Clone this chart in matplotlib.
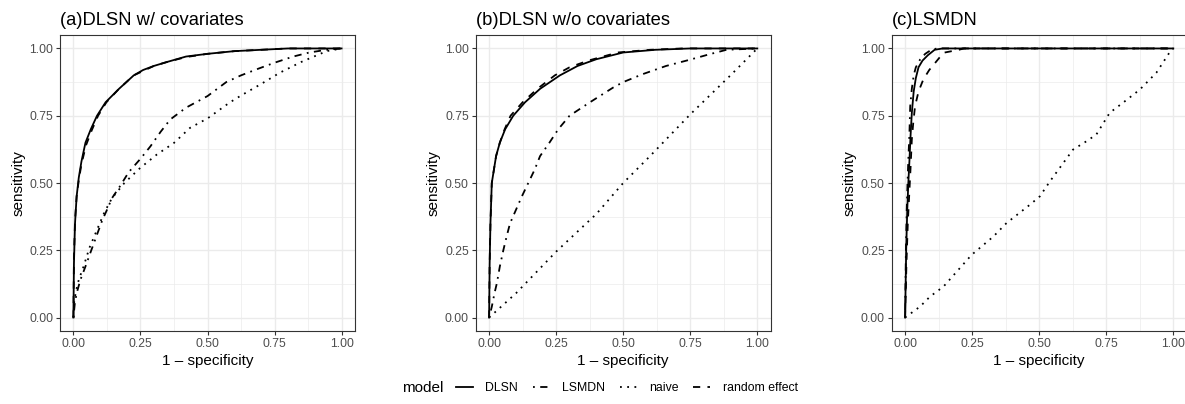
import matplotlib
matplotlib.use("Agg")
import matplotlib.pyplot as plt
from matplotlib.lines import Line2D
from matplotlib.ticker import MultipleLocator

plt.rcParams["font.family"] = ["Liberation Sans", "DejaVu Sans"]

# ---- data (x = 1 - specificity, y = sensitivity) ----
panel_titles = ["(a)DLSN w/ covariates", "(b)DLSN w/o covariates", "(c)LSMDN"]
models = ["DLSN", "LSMDN", "naive", "random effect"]

# panel (a)
a_dlsn_x = [0, 0.002, 0.006, 0.012, 0.02, 0.03, 0.045, 0.065, 0.088, 0.12, 0.17, 0.225, 0.26, 0.30, 0.35, 0.42, 0.50, 0.60, 0.70, 0.80, 1.0]
a_dlsn_y = [0, 0.2, 0.35, 0.45, 0.52, 0.58, 0.65, 0.70, 0.75, 0.80, 0.85, 0.90, 0.92, 0.935, 0.95, 0.97, 0.98, 0.99, 0.995, 1.0, 1.0]
a_lsmdn_x = [0, 0.005, 0.012, 0.026, 0.045, 0.063, 0.085, 0.107, 0.125, 0.144, 0.175, 0.206, 0.25, 0.287, 0.325, 0.361, 0.42, 0.5, 0.57, 0.625, 0.69, 0.75, 0.82, 0.88, 0.95, 1]
a_lsmdn_y = [0, 0.05, 0.09, 0.14, 0.19, 0.24, 0.30, 0.36, 0.40, 0.444, 0.49, 0.54, 0.59, 0.636, 0.69, 0.736, 0.78, 0.823, 0.875, 0.90, 0.925, 0.947, 0.97, 0.985, 0.996, 1]
a_naive_x = [0, 0.003, 0.01, 0.02, 0.038, 0.06, 0.088, 0.115, 0.144, 0.19, 0.249, 0.31, 0.375, 0.435, 0.5, 0.584, 0.625, 0.7, 0.77, 0.85, 0.944, 1]
a_naive_y = [0, 0.06, 0.1, 0.14, 0.19, 0.26, 0.326, 0.39, 0.444, 0.5, 0.556, 0.605, 0.649, 0.705, 0.74, 0.80, 0.825, 0.868, 0.91, 0.95, 0.99, 1]
a_re_x = [0, 0.002, 0.006, 0.012, 0.02, 0.03, 0.047, 0.068, 0.092, 0.123, 0.17, 0.225, 0.30, 0.35, 0.42, 0.5, 0.6, 0.7, 0.8, 1]
a_re_y = [0, 0.22, 0.36, 0.45, 0.51, 0.57, 0.64, 0.695, 0.75, 0.80, 0.85, 0.90, 0.935, 0.95, 0.968, 0.98, 0.99, 0.995, 1, 1]

# panel (b)
b_dlsn_x = [0, 0.002, 0.005, 0.01, 0.018, 0.026, 0.04, 0.06, 0.09, 0.134, 0.19, 0.264, 0.33, 0.40, 0.5, 0.62, 0.75, 1]
b_dlsn_y = [0, 0.2, 0.35, 0.5, 0.55, 0.6, 0.65, 0.70, 0.75, 0.80, 0.85, 0.90, 0.935, 0.96, 0.985, 0.995, 1, 1]
b_lsmdn_x = [0, 0.01, 0.02, 0.029, 0.04, 0.053, 0.065, 0.078, 0.1, 0.122, 0.146, 0.17, 0.19, 0.225, 0.258, 0.30, 0.376, 0.463, 0.5, 0.574, 0.66, 0.748, 0.82, 0.885, 1]
b_lsmdn_y = [0, 0.04, 0.09, 0.128, 0.19, 0.25, 0.30, 0.35, 0.40, 0.45, 0.5, 0.55, 0.6, 0.65, 0.7, 0.75, 0.8, 0.855, 0.875, 0.905, 0.935, 0.958, 0.978, 0.995, 1]
b_naive_x = [0, 0.1, 0.25, 0.4, 0.5, 0.6, 0.75, 0.9, 1]
b_naive_y = [0, 0.09, 0.245, 0.385, 0.5, 0.6, 0.755, 0.9, 1]
b_re_x = [0, 0.002, 0.005, 0.01, 0.018, 0.026, 0.04, 0.058, 0.08, 0.125, 0.18, 0.245, 0.30, 0.37, 0.48, 0.6, 0.72, 1]
b_re_y = [0, 0.2, 0.35, 0.5, 0.55, 0.6, 0.65, 0.70, 0.75, 0.80, 0.85, 0.90, 0.93, 0.955, 0.985, 0.995, 1, 1]

# panel (c)
c_dlsn_x = [0, 0.004, 0.008, 0.012, 0.016, 0.02, 0.025, 0.032, 0.04, 0.05, 0.065, 0.085, 0.11, 0.14, 1]
c_dlsn_y = [0, 0.25, 0.4, 0.5, 0.58, 0.67, 0.76, 0.84, 0.89, 0.93, 0.955, 0.975, 0.995, 1, 1]
c_lsmdn_x = [0, 0.003, 0.006, 0.009, 0.012, 0.016, 0.019, 0.025, 0.032, 0.04, 0.056, 0.075, 0.099, 0.12, 1]
c_lsmdn_y = [0, 0.25, 0.4, 0.5, 0.587, 0.68, 0.785, 0.85, 0.9, 0.93, 0.959, 0.98, 0.996, 1, 1]
c_naive_x = [0, 0.056, 0.093, 0.143, 0.248, 0.329, 0.378, 0.465, 0.502, 0.54, 0.626, 0.676, 0.713, 0.763, 0.812, 0.875, 0.937, 0.993, 1]
c_naive_y = [0, 0.041, 0.078, 0.115, 0.233, 0.301, 0.351, 0.419, 0.45, 0.506, 0.624, 0.655, 0.68, 0.761, 0.798, 0.847, 0.91, 0.996, 1]
c_re_x = [0, 0.005, 0.01, 0.015, 0.02, 0.025, 0.03, 0.037, 0.05, 0.068, 0.09, 0.115, 0.143, 0.2, 0.22, 1]
c_re_y = [0, 0.2, 0.35, 0.45, 0.55, 0.661, 0.72, 0.785, 0.84, 0.885, 0.92, 0.95, 0.984, 0.995, 1, 1]

ticks = [0.00, 0.25, 0.50, 0.75, 1.00]
tick_labels = ["0.00", "0.25", "0.50", "0.75", "1.00"]

curves = [
    {"DLSN": (a_dlsn_x, a_dlsn_y), "LSMDN": (a_lsmdn_x, a_lsmdn_y),
     "naive": (a_naive_x, a_naive_y), "random effect": (a_re_x, a_re_y)},
    {"DLSN": (b_dlsn_x, b_dlsn_y), "LSMDN": (b_lsmdn_x, b_lsmdn_y),
     "naive": (b_naive_x, b_naive_y), "random effect": (b_re_x, b_re_y)},
    {"DLSN": (c_dlsn_x, c_dlsn_y), "LSMDN": (c_lsmdn_x, c_lsmdn_y),
     "naive": (c_naive_x, c_naive_y), "random effect": (c_re_x, c_re_y)},
]

# ggplot linetypes: solid, dotdash, dotted, dashed
line_styles = {
    "DLSN": "-",
    "LSMDN": (0, (1, 3, 4, 3)),
    "naive": (0, (1, 3)),
    "random effect": (0, (4, 4)),
}
LW = 1.3

W, H = 1185, 404
fig = plt.figure(figsize=(W / 100, H / 100), dpi=100)

panel_left_px = [60, 475.7, 891.7]
panel_w, panel_top, panel_bottom = 295, 35, 331

for i, left in enumerate(panel_left_px):
    ax = fig.add_axes([left / W, 1 - panel_bottom / H, panel_w / W, (panel_bottom - panel_top) / H])
    ax.set_xlim(-0.05, 1.05)
    ax.set_ylim(-0.05, 1.05)

    ax.xaxis.set_minor_locator(MultipleLocator(0.125))
    ax.yaxis.set_minor_locator(MultipleLocator(0.125))
    ax.grid(which="major", color="#EBEBEB", linewidth=1.0)
    ax.grid(which="minor", color="#EBEBEB", linewidth=0.5)
    ax.set_axisbelow(True)
    ax.tick_params(which="minor", length=0)

    for m in models:
        xs, ys = curves[i][m]
        ax.plot(xs, ys, color="black", linewidth=LW, linestyle=line_styles[m])

    ax.set_xticks(ticks)
    ax.set_xticklabels(tick_labels)
    ax.set_yticks(ticks)
    ax.set_yticklabels(tick_labels)
    ax.tick_params(which="major", direction="out", length=2.75, width=0.8,
                   color="#333333", labelcolor="#4D4D4D", labelsize=8.8, pad=2.2)
    for sp in ax.spines.values():
        sp.set_color("#333333")
        sp.set_linewidth(0.8)

    ax.set_xlabel("1 \u2013 specificity", fontsize=11, labelpad=2.75)
    ax.set_ylabel("sensitivity", fontsize=11, labelpad=2.75)
    ax.set_title(panel_titles[i], loc="left", fontsize=13.2, pad=7)

# legend across the bottom
fig.text(402 / W, 1 - 388 / H, "model", fontsize=11, va="center", ha="left")
handles = [Line2D([], [], color="black", linewidth=LW, linestyle=line_styles[m]) for m in models]
fig.legend(handles, models, loc="center left", bbox_to_anchor=(456 / W, 1 - 388 / H),
           ncol=4, frameon=False, fontsize=8.8, handlelength=1.4, handletextpad=1.0,
           columnspacing=1.2, borderpad=0, borderaxespad=0)

fig.savefig("out.png", dpi=100)
